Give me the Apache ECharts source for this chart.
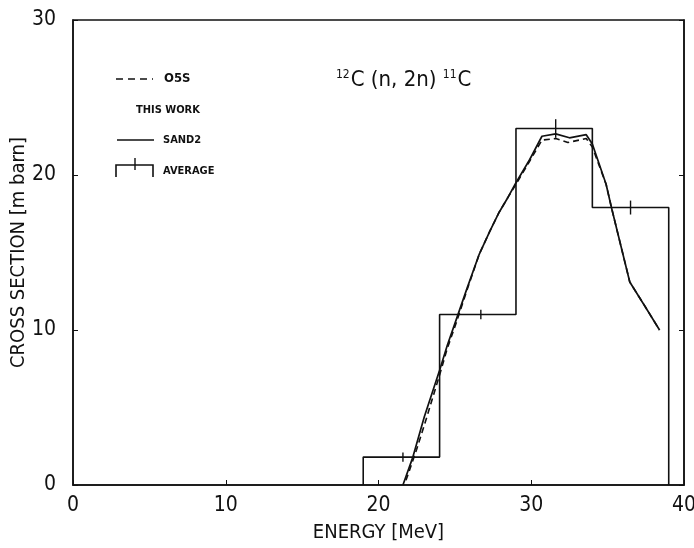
<!DOCTYPE html>
<html>
<head>
<meta charset="utf-8">
<script src="https://cdn.jsdelivr.net/npm/echarts@6/dist/echarts.min.js"></script>
<style>
  html, body { margin: 0; padding: 0; background: #fff; }
  #main { width: 694px; height: 548px; }
</style>
</head>
<body>
<div id="main"></div>
<script>
// histogram bins (AVERAGE)
var binEdges = [19, 24, 29, 34, 39];
var avgValues = [1.8, 11.0, 23.0, 17.9];
// error bar positions inside each bin
var errX = [21.6, 26.7, 31.6, 36.5];
var errDelta = [0.3, 0.3, 0.6, 0.45];

// SAND2 (solid)
var sandE = [21.6, 22.25, 23.0, 24.0, 24.5, 25.1, 25.8, 26.6, 27.3, 27.9, 28.5, 29.0, 29.9, 30.7, 31.6, 32.5, 33.6, 34.0, 34.9, 35.25, 36.45, 37.4, 38.4];
var sandV = [0.0, 1.8, 4.4, 7.4, 9.0, 10.7, 12.7, 14.9, 16.4, 17.6, 18.6, 19.5, 21.0, 22.5, 22.65, 22.4, 22.6, 22.0, 19.4, 17.9, 13.1, 11.6, 10.0];

// O5S (dashed)
var o5sE = [21.8, 22.5, 23.2, 24.0, 24.5, 25.1, 25.8, 26.6, 27.3, 27.9, 28.5, 29.0, 29.9, 30.7, 31.6, 32.4, 33.6, 34.0, 34.9, 35.25, 36.45, 37.4, 38.4];
var o5sV = [0.3, 2.3, 4.5, 7.1, 8.8, 10.5, 12.6, 14.9, 16.4, 17.6, 18.6, 19.4, 20.9, 22.25, 22.35, 22.1, 22.35, 21.8, 19.4, 17.9, 13.1, 11.6, 10.0];

var xTicks = [0, 10, 20, 30, 40];
var yTicks = [0, 10, 20, 30];

var FONT = "'DejaVu Sans Condensed', 'DejaVu Sans', sans-serif";
var INK = '#111';

var chartDom = document.getElementById('main');
var myChart = echarts.init(chartDom);

function zip(a, b) {
  return a.map(function (v, i) { return [v, b[i]]; });
}

// step outline of the histogram
var histPts = [[binEdges[0], 0]];
for (var i = 0; i < avgValues.length; i++) {
  histPts.push([binEdges[i], avgValues[i]]);
  histPts.push([binEdges[i + 1], avgValues[i]]);
}
histPts.push([binEdges[binEdges.length - 1], 0]);

var option = {
  backgroundColor: '#fff',
  animation: false,
  title: {
    text: '{sup|12}C (n, 2n) {sup|11}C',
    left: 331,
    top: 64,
    textStyle: {
      fontFamily: FONT,
      fontSize: 22,
      fontWeight: 'normal',
      color: INK,
      rich: {
        sup: { fontFamily: FONT, fontSize: 12, color: INK, verticalAlign: 'top', padding: [0, 1, 8, 0] }
      }
    }
  },
  grid: {
    left: 73, right: 10, top: 20, bottom: 63,
    outerBoundsMode: 'none',
    containLabel: false,
    show: true, borderColor: INK, borderWidth: 1.5, backgroundColor: 'transparent'
  },
  xAxis: {
    type: 'value',
    min: xTicks[0], max: xTicks[xTicks.length - 1], interval: 10,
    name: 'ENERGY [MeV]',
    nameLocation: 'middle',
    nameGap: 38,
    nameMoveOverlap: false,
    nameTextStyle: { fontFamily: FONT, fontSize: 20, color: INK },
    axisLine: { lineStyle: { color: INK, width: 1.5 } },
    axisTick: { inside: true, length: 5, lineStyle: { color: INK } },
    axisLabel: { fontFamily: FONT, fontSize: 21, color: INK, margin: 10 },
    splitLine: { show: false }
  },
  yAxis: [{
    type: 'value',
    min: yTicks[0], max: yTicks[yTicks.length - 1], interval: 10,
    name: 'CROSS SECTION [m barn]',
    nameLocation: 'middle',
    nameGap: 44,
    nameMoveOverlap: false,
    nameTextStyle: { fontFamily: FONT, fontSize: 20, color: INK },
    axisLine: { lineStyle: { color: INK, width: 1.5 } },
    axisTick: { inside: true, length: 5, lineStyle: { color: INK } },
    axisLabel: { fontFamily: FONT, fontSize: 21, color: INK, margin: 17 },
    splitLine: { show: false }
  }, {
    type: 'value',
    position: 'right',
    min: yTicks[0], max: yTicks[yTicks.length - 1], interval: 10,
    axisLine: { show: true, lineStyle: { color: INK, width: 1.5 } },
    axisTick: { inside: true, length: 5, lineStyle: { color: INK } },
    axisLabel: { show: false },
    splitLine: { show: false }
  }],
  graphic: [
    // legend
    { type: 'line', shape: { x1: 116, y1: 79, x2: 153, y2: 79 }, style: { stroke: INK, lineWidth: 1.6, lineDash: [7, 5] } },
    { type: 'text', x: 164, y: 79, style: { text: 'O5S', font: 'bold 13px ' + FONT, fill: INK, verticalAlign: 'middle' } },
    { type: 'text', x: 136, y: 110, style: { text: 'THIS WORK', font: 'bold 11px ' + FONT, fill: INK, verticalAlign: 'middle' } },
    { type: 'line', shape: { x1: 117, y1: 140, x2: 154, y2: 140 }, style: { stroke: INK, lineWidth: 1.6 } },
    { type: 'text', x: 163, y: 140, style: { text: 'SAND2', font: 'bold 11px ' + FONT, fill: INK, verticalAlign: 'middle' } },
    { type: 'polyline', shape: { points: [[116, 177], [116, 165], [153, 165], [153, 177]] }, style: { stroke: INK, lineWidth: 1.6, fill: null } },
    { type: 'line', shape: { x1: 135, y1: 158, x2: 135, y2: 170 }, style: { stroke: INK, lineWidth: 1.4 } },
    { type: 'text', x: 163, y: 171, style: { text: 'AVERAGE', font: 'bold 11px ' + FONT, fill: INK, verticalAlign: 'middle' } }
  ],
  series: [
    {
      name: 'AVERAGE',
      type: 'line',
      data: histPts,
      symbol: 'none',
      lineStyle: { color: INK, width: 1.6 },
      z: 2
    },
    {
      name: 'AVERAGE err',
      type: 'custom',
      data: errX.map(function (x, i) { return [x, avgValues[i], errDelta[i]]; }),
      renderItem: function (params, api) {
        var x = api.value(0), y = api.value(1), d = api.value(2);
        var p1 = api.coord([x, y - d]);
        var p2 = api.coord([x, y + d]);
        return {
          type: 'line',
          shape: { x1: p1[0], y1: p1[1], x2: p2[0], y2: p2[1] },
          style: { stroke: INK, lineWidth: 1.4 }
        };
      },
      z: 3
    },
    {
      name: 'O5S',
      type: 'line',
      data: zip(o5sE, o5sV),
      symbol: 'none',
      lineStyle: { color: INK, width: 1.6, type: [6, 4] },
      z: 4
    },
    {
      name: 'SAND2',
      type: 'line',
      data: zip(sandE, sandV),
      symbol: 'none',
      lineStyle: { color: INK, width: 1.7 },
      z: 5
    }
  ]
};

option && myChart.setOption(option);
</script>
</body>
</html>
